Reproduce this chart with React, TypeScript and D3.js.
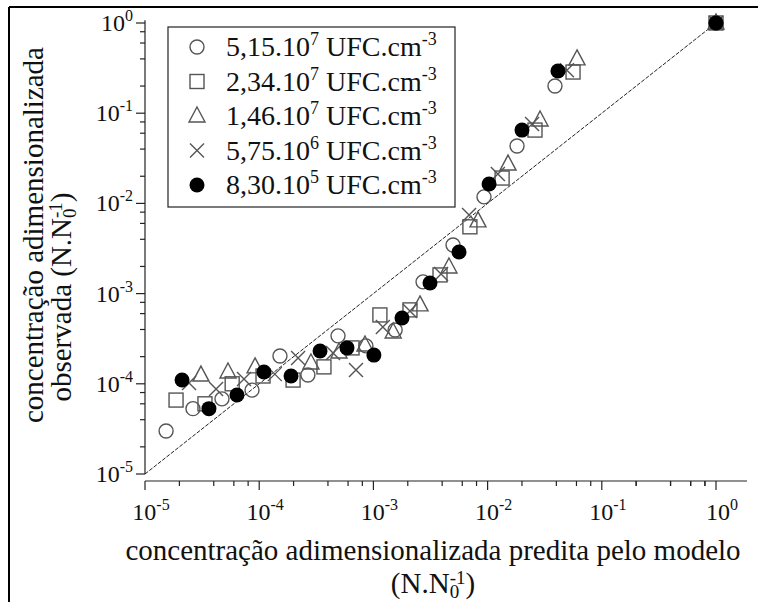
import React from 'react'
import * as d3 from 'd3'

// 5,15.10^7 UFC.cm^-3 (open circles)
const circX = [1.53e-5, 2.63e-5, 4.72e-5, 8.65e-5, 1.52e-4, 2.67e-4, 4.9e-4, 8.6e-4, 1.55e-3, 2.72e-3, 4.98e-3, 9.3e-3, 1.81e-2, 3.89e-2, 1]
const circY = [3.0e-5, 5.3e-5, 6.8e-5, 8.5e-5, 2.03e-4, 1.25e-4, 3.4e-4, 2.63e-4, 3.95e-4, 1.35e-3, 3.46e-3, 1.18e-2, 4.33e-2, 0.2, 1]

// 2,34.10^7 UFC.cm^-3 (open squares)
const sqX = [1.87e-5, 3.35e-5, 5.8e-5, 1.08e-4, 1.98e-4, 3.69e-4, 6.5e-4, 1.14e-3, 2.09e-3, 3.83e-3, 7.0e-3, 1.34e-2, 2.6e-2, 5.6e-2, 1]
const sqY = [6.6e-5, 6.0e-5, 1.0e-4, 1.22e-4, 1.1e-4, 1.54e-4, 2.5e-4, 5.8e-4, 6.6e-4, 1.61e-3, 5.5e-3, 1.91e-2, 6.5e-2, 0.286, 1]

// 1,46.10^7 UFC.cm^-3 (open triangles)
const triX = [3.09e-5, 5.33e-5, 9.2e-5, 2.84e-4, 5.0e-4, 8.44e-4, 1.49e-3, 2.56e-3, 4.59e-3, 8.24e-3, 1.51e-2, 2.88e-2, 6.07e-2, 1]
const triY = [1.25e-4, 1.35e-4, 1.54e-4, 1.7e-4, 2.25e-4, 2.69e-4, 3.75e-4, 7.5e-4, 1.97e-3, 6.4e-3, 2.73e-2, 8.4e-2, 0.4, 1]

// 5,75.10^6 UFC.cm^-3 (crosses)
const crossX = [2.43e-5, 4.19e-5, 7.36e-5, 1.37e-4, 2.19e-4, 4.43e-4, 7.04e-4, 1.21e-3, 2.09e-3, 3.91e-3, 6.88e-3, 1.23e-2, 2.45e-2, 4.95e-2, 1]
const crossY = [1.02e-4, 8.75e-5, 1.13e-4, 1.28e-4, 1.93e-4, 2.2e-4, 1.42e-4, 4.26e-4, 6.4e-4, 1.65e-3, 7.44e-3, 2.12e-2, 7.6e-2, 0.3, 1]

// 8,30.10^5 UFC.cm^-3 (filled circles)
const dotX = [2.11e-5, 3.63e-5, 6.39e-5, 1.1e-4, 1.9e-4, 3.41e-4, 5.87e-4, 1.01e-3, 1.78e-3, 3.13e-3, 5.62e-3, 1.03e-2, 2.0e-2, 4.13e-2, 1]
const dotY = [1.1e-4, 5.3e-5, 7.5e-5, 1.35e-4, 1.22e-4, 2.31e-4, 2.5e-4, 2.08e-4, 5.36e-4, 1.31e-3, 2.89e-3, 1.64e-2, 6.5e-2, 0.294, 1]

const legendMant = ['5,15.10', '2,34.10', '1,46.10', '5,75.10', '8,30.10']
const legendExp = ['7', '7', '7', '6', '5']
const shapes = ['circle', 'square', 'triangle', 'cross', 'dot']

const majorTicks = [-5, -4, -3, -2, -1, 0]
const minorMult = [2, 4, 6, 8]

const series = [
  { shape: 'circle', x: circX, y: circY },
  { shape: 'square', x: sqX, y: sqY },
  { shape: 'triangle', x: triX, y: triY },
  { shape: 'cross', x: crossX, y: crossY },
  { shape: 'dot', x: dotX, y: dotY },
]

const font = '"Liberation Serif", "Times New Roman", serif'
const grey = '#555'

const Marker = ({ shape, cx, cy }: { shape: string; cx: number; cy: number }) => {
  if (shape === 'circle')
    return <circle cx={cx} cy={cy} r={7} fill="none" stroke={grey} strokeWidth={1.4} />
  if (shape === 'square')
    return <rect x={cx - 7} y={cy - 7} width={14} height={14} fill="none" stroke={grey} strokeWidth={1.4} />
  if (shape === 'triangle')
    return (
      <path
        d={`M${cx},${cy - 9} L${cx + 8},${cy + 6} L${cx - 8},${cy + 6} Z`}
        fill="none"
        stroke={grey}
        strokeWidth={1.4}
      />
    )
  if (shape === 'cross')
    return (
      <path
        d={`M${cx - 7},${cy - 7} L${cx + 7},${cy + 7} M${cx - 7},${cy + 7} L${cx + 7},${cy - 7}`}
        stroke={grey}
        strokeWidth={1.4}
      />
    )
  return <circle cx={cx} cy={cy} r={7.5} fill="#000" />
}

const Pow = ({ x, y, e, anchor }: { x: number; y: number; e: number; anchor: string }) => (
  <text x={x} y={y} fontFamily={font} fontSize={24} textAnchor={anchor} fill="#111">
    10<tspan fontSize={16} dy={-10}>{e}</tspan>
  </text>
)

// "(N.N0-1)" with stacked subscript / superscript
const Unit = () => (
  <>
    (N.N<tspan fontSize={19} dy={5}>0</tspan>
    <tspan fontSize={19} dx={-9.5} dy={-14}>-1</tspan>
    <tspan dy={9}>)</tspan>
  </>
)

export default function App() {
  const width = 758
  const height = 602
  const xScale = d3.scaleLog().domain([1e-5, 1]).range([145, 716])
  const yScale = d3.scaleLog().domain([1e-5, 1]).range([474, 23])
  const xAxisY = 481
  const yAxisX = 145

  const minors: number[] = []
  majorTicks.slice(0, -1).forEach(e => minorMult.forEach(m => minors.push(m * Math.pow(10, e))))
  const xMinors = minors.concat(minorMult.map(m => m * 0.1).filter(v => v < 1))

  const diag = d3.line<number>().x(d => xScale(d)).y(d => yScale(d))([1e-5, 1])

  return (
    <div style={{ position: 'absolute', left: 0, top: 0 }}>
      <svg width={width} height={height} style={{ display: 'block', background: '#fff' }}>
        {/* frame */}
        <line x1={9} y1={7} x2={width} y2={7} stroke="#000" strokeWidth={2} />
        <line x1={9} y1={7} x2={9} y2={height} stroke="#000" strokeWidth={2} />

        {/* y axis */}
        <line x1={yAxisX} y1={yScale(1.07)} x2={yAxisX} y2={yScale(1e-5)} stroke="#222" strokeWidth={1.2} />
        {majorTicks.map(e => (
          <g key={'ym' + e}>
            <line x1={yAxisX - 9} x2={yAxisX} y1={yScale(Math.pow(10, e))} y2={yScale(Math.pow(10, e))} stroke="#222" strokeWidth={1.2} />
            <Pow x={133} y={yScale(Math.pow(10, e)) + 8} e={e} anchor="end" />
          </g>
        ))}
        {minors.map((v, i) => (
          <line key={'yn' + i} x1={yAxisX - 5} x2={yAxisX} y1={yScale(v)} y2={yScale(v)} stroke="#222" strokeWidth={1.2} />
        ))}

        {/* x axis */}
        <line x1={yAxisX} y1={xAxisY} x2={747} y2={xAxisY} stroke="#222" strokeWidth={1.2} />
        {majorTicks.map(e => (
          <g key={'xm' + e}>
            <line x1={xScale(Math.pow(10, e))} x2={xScale(Math.pow(10, e))} y1={xAxisY} y2={xAxisY + 9} stroke="#222" strokeWidth={1.2} />
            <Pow x={xScale(Math.pow(10, e)) + 6} y={520} e={e} anchor="middle" />
          </g>
        ))}
        {xMinors.map((v, i) => (
          <line key={'xn' + i} x1={xScale(v)} x2={xScale(v)} y1={xAxisY} y2={xAxisY + 5} stroke="#222" strokeWidth={1.2} />
        ))}

        {/* 1:1 line */}
        <path d={diag || ''} stroke="#222" strokeWidth={1} strokeDasharray="4,1.5" fill="none" />

        {/* data */}
        {series.map(s => (
          <g key={s.shape}>
            {s.x.map((xv, i) => (
              <Marker key={i} shape={s.shape} cx={xScale(xv)} cy={yScale(s.y[i])} />
            ))}
          </g>
        ))}

        {/* legend */}
        <rect x={168} y={27} width={287} height={180} fill="none" stroke="#222" strokeWidth={1.2} />
        {shapes.map((sh, i) => {
          const cy = 47 + i * 34.5
          return (
            <g key={'lg' + sh}>
              <Marker shape={sh} cx={197} cy={cy} />
              <text x={226} y={cy + 9} fontFamily={font} fontSize={28} fill="#111">
                {legendMant[i]}
                <tspan fontSize={18} dy={-11}>{legendExp[i]}</tspan>
                <tspan dy={11}> UFC.cm</tspan>
                <tspan fontSize={18} dy={-11}>-3</tspan>
              </text>
            </g>
          )
        })}

        {/* x title */}
        <text x={433} y={560} fontFamily={font} fontSize={29} textAnchor="middle" fill="#111">
          concentração adimensionalizada predita pelo modelo
        </text>
        <text x={433} y={593} fontFamily={font} fontSize={29} textAnchor="middle" fill="#111">
          <Unit />
        </text>

        {/* y title */}
        <text transform="translate(43,235) rotate(-90)" fontFamily={font} fontSize={29} textAnchor="middle" fill="#111">
          concentração adimensionalizada
        </text>
        <text transform="translate(71,297) rotate(-90)" fontFamily={font} fontSize={29} textAnchor="middle" fill="#111">
          observada <Unit />
        </text>
      </svg>
    </div>
  )
}
